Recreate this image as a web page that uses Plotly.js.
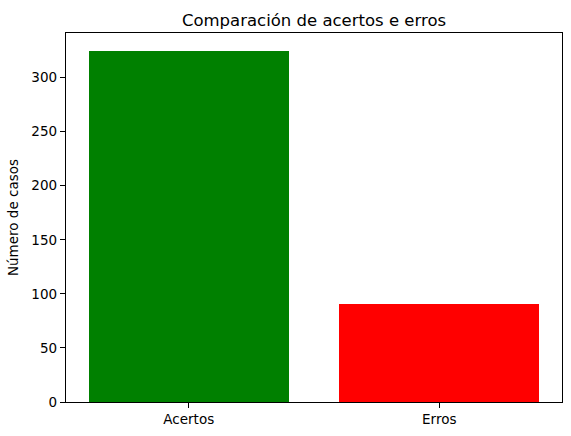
<!DOCTYPE html>
<html>
<head>
<meta charset="utf-8">
<script src="https://cdn.plot.ly/plotly-3.0.1.min.js"></script>
<style>
  html, body { margin: 0; padding: 0; background: white; }
  #chart { width: 571px; height: 436px; }
</style>
</head>
<body>
<div id="chart"></div>
<script>
// Data
const categorias = ['Acertos', 'Erros'];
const casos = [325, 91];
const cores = ['#008000', '#ff0000'];
const yTicks = [0, 50, 100, 150, 200, 250, 300];

const fonte = 'DejaVu Sans, sans-serif';

const barras = {
    x: [0, 1],
    y: casos,
    type: 'bar',
    width: 0.8,
    marker: { color: cores, line: { width: 0 } },
    hoverinfo: 'x+y'
};

const eixoBase = {
    showline: true,
    mirror: true,
    linecolor: 'black',
    linewidth: 1.2,
    ticks: 'outside',
    ticklen: 5,
    tickwidth: 1,
    tickcolor: 'black',
    showgrid: false,
    zeroline: false,
    tickfont: { family: fonte, size: 13.5, color: 'black' }
};

const layout = {
    title: {
        text: 'Comparación de acertos e erros',
        font: { family: fonte, size: 16.5, color: 'black' },
        x: 0.5,
        xref: 'paper',
        y: 1,
        yref: 'paper',
        yanchor: 'bottom',
        pad: { b: 7 }
    },
    xaxis: Object.assign({}, eixoBase, {
        range: [-0.49, 1.49],
        tickvals: [0, 1],
        ticktext: categorias
    }),
    yaxis: Object.assign({}, eixoBase, {
        range: [0, 341.25],
        tickvals: yTicks,
        title: {
            text: 'Número de casos',
            font: { family: fonte, size: 13.5, color: 'black' },
            standoff: 9
        }
    }),
    margin: { l: 66, r: 9, t: 33, b: 34 },
    showlegend: false,
    bargap: 0,
    plot_bgcolor: 'white',
    paper_bgcolor: 'white'
};

Plotly.newPlot('chart', [barras], layout, { displayModeBar: false, staticPlot: true });
</script>
</body>
</html>
